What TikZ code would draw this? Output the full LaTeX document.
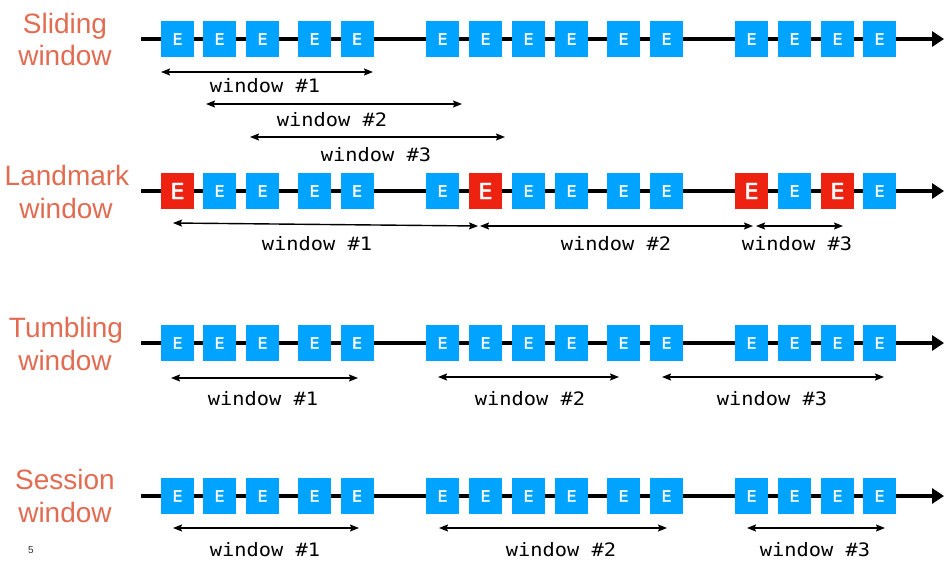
\documentclass[tikz,border=0pt]{standalone}
\usepackage{fontspec}
\setmainfont{Liberation Sans}
\newfontfamily\evfont{DejaVu Sans}[BoldFont=DejaVu Sans, BoldFeatures={FakeBold=2}]
\newfontfamily\winfont{DejaVu Sans Mono}[FakeStretch=1.1]
\usetikzlibrary{arrows.meta}

\definecolor{evblue}{RGB}{0,163,255}
\definecolor{evred}{RGB}{238,34,17}
\definecolor{title}{RGB}{226,108,82}

\tikzset{
  every node/.style={inner sep=0pt, outer sep=0pt},
  axis/.style={line width=4pt, -{Triangle[length=12pt,width=15pt]}},
  span/.style={line width=1.4pt, {Stealth[length=9pt,width=7pt,inset=1.5pt]}-{Stealth[length=9pt,width=7pt,inset=1.5pt]}},
  event/.style={fill=evblue, minimum width=33pt, minimum height=36pt,
    text=white, font=\evfont\bfseries\fontsize{15.5}{16}\selectfont},
  landmarkev/.style={event, fill=evred, font=\evfont\bfseries\fontsize{22}{22}\selectfont},
  rowtitle/.style={anchor=base, text=title, font=\fontsize{28}{32}\selectfont},
  winlabel/.style={anchor=base, text=black, font=\winfont\fontsize{18.5}{20}\selectfont},
}

\begin{document}
\begin{tikzpicture}[x=1pt, y=-1pt]
  \fill[white] (0,0) rectangle (944,560);
  \useasboundingbox (0,0) rectangle (944,560);

  % event positions along every stream
  \def\evx{177.5,219.5,262.5,314.5,357,442.5,485.5,528.5,571.5,623.5,666.5,751.5,794.5,837.5,879.5}

  % ---------- stream axes ----------
  \foreach \r/\y in {s/39, l/191, t/343, n/496} {
    \coordinate (\r start) at (141,\y);
    \coordinate (\r end) at (944,\y);
    \draw[axis] (\r start) -- (\r end);
  }

  % ---------- events ----------
  \foreach \x [count=\i] in \evx {
    \node[event] (s\i) at (\x,39) {E};
    \node[event] (t\i) at (\x,343) {E};
    \node[event] (n\i) at (\x,496) {E};
  }
  \foreach \x [count=\i] in \evx {
    \ifnum\i=1 \node[landmarkev] (l\i) at (\x,191) {E};
    \else\ifnum\i=7 \node[landmarkev] (l\i) at (\x,191) {E};
    \else\ifnum\i=12 \node[landmarkev] (l\i) at (\x,191) {E};
    \else\ifnum\i=14 \node[landmarkev] (l\i) at (\x,191) {E};
    \else \node[event] (l\i) at (\x,191) {E};
    \fi\fi\fi\fi
  }

  % ---------- row titles ----------
  \node[rowtitle] (slidingA) at (65,33) {Sliding};
  \node[rowtitle] (slidingB) at (65,65) {window};
  \node[rowtitle] (landmarkA) at (67,185) {Landmark};
  \node[rowtitle] (landmarkB) at (66,218) {window};
  \node[rowtitle] (tumblingA) at (66,337) {Tumbling};
  \node[rowtitle] (tumblingB) at (65,370) {window};
  \node[rowtitle] (sessionA) at (65,489) {Session};
  \node[rowtitle] (sessionB) at (65,522) {window};

  % ---------- sliding windows ----------
  \coordinate (sw1a) at (161,72);  \coordinate (sw1b) at (373,72);
  \coordinate (sw2a) at (206,104); \coordinate (sw2b) at (462,104);
  \coordinate (sw3a) at (250,137); \coordinate (sw3b) at (505,137);
  \draw[span] (sw1a) -- (sw1b);
  \draw[span] (sw2a) -- (sw2b);
  \draw[span] (sw3a) -- (sw3b);
  \node[winlabel] (swl1) at (265,92) {window \#1};
  \node[winlabel] (swl2) at (332,126) {window \#2};
  \node[winlabel] (swl3) at (376,161) {window \#3};

  % ---------- landmark windows ----------
  \coordinate (lw1a) at (173,223); \coordinate (lw1b) at (478,226);
  \coordinate (lw2a) at (480,226); \coordinate (lw2b) at (753,226);
  \coordinate (lw3a) at (756,226); \coordinate (lw3b) at (843,226);
  \draw[span] (lw1a) -- (lw1b);
  \draw[span] (lw2a) -- (lw2b);
  \draw[span] (lw3a) -- (lw3b);
  \node[winlabel] (lwl1) at (317,250) {window \#1};
  \node[winlabel] (lwl2) at (616,250) {window \#2};
  \node[winlabel] (lwl3) at (797,250) {window \#3};

  % ---------- tumbling windows ----------
  \coordinate (tw1a) at (171,378); \coordinate (tw1b) at (358,378);
  \coordinate (tw2a) at (438,377); \coordinate (tw2b) at (619,377);
  \coordinate (tw3a) at (662,377); \coordinate (tw3b) at (884,377);
  \draw[span] (tw1a) -- (tw1b);
  \draw[span] (tw2a) -- (tw2b);
  \draw[span] (tw3a) -- (tw3b);
  \node[winlabel] (twl1) at (263,405) {window \#1};
  \node[winlabel] (twl2) at (530,405) {window \#2};
  \node[winlabel] (twl3) at (772,405) {window \#3};

  % ---------- session windows ----------
  \coordinate (nw1a) at (173,528); \coordinate (nw1b) at (359,528);
  \coordinate (nw2a) at (439,528); \coordinate (nw2b) at (667,528);
  \coordinate (nw3a) at (747,528); \coordinate (nw3b) at (885,528);
  \draw[span] (nw1a) -- (nw1b);
  \draw[span] (nw2a) -- (nw2b);
  \draw[span] (nw3a) -- (nw3b);
  \node[winlabel] (nwl1) at (265,556) {window \#1};
  \node[winlabel] (nwl2) at (561,556) {window \#2};
  \node[winlabel] (nwl3) at (815,556) {window \#3};

  % slide number
  \node[anchor=base, text=black!80, font=\fontsize{10}{12}\selectfont] (pageno) at (31,553) {5};
\end{tikzpicture}
\end{document}
